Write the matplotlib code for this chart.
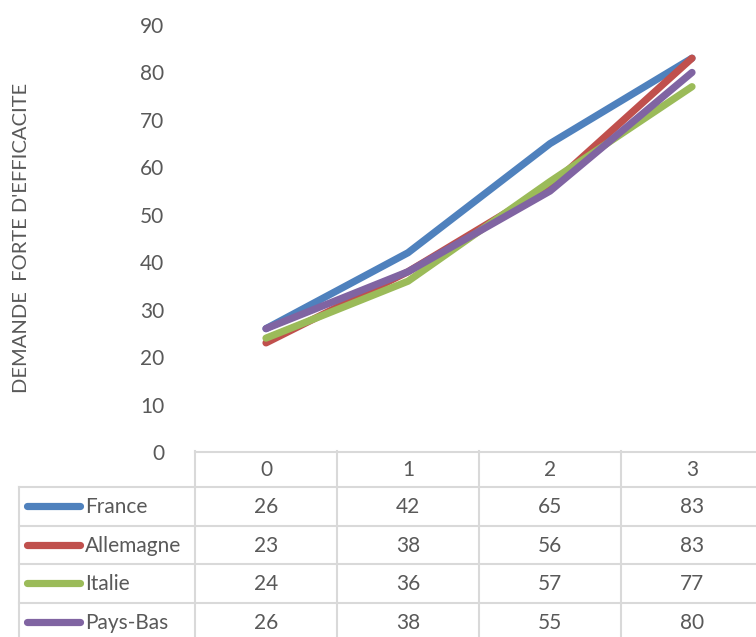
import matplotlib.pyplot as plt
from matplotlib.lines import Line2D

# efficiency demand by country, categories 0..3
categories = ['0', '1', '2', '3']
countries = ['France', 'Allemagne', 'Italie', 'Pays-Bas']
france = [26, 42, 65, 83]
allemagne = [23, 38, 56, 83]
italie = [24, 36, 57, 77]
pays_bas = [26, 38, 55, 80]
series = [france, allemagne, italie, pays_bas]
colors = ['#4F81BD', '#C0504D', '#9BBB59', '#8064A2']
yticks = [0, 10, 20, 30, 40, 50, 60, 70, 80, 90]

W, H = 756, 637
grey = '#595959'
gridc = '#D9D9D9'
font = 'Lato'
fs = 15

fig = plt.figure(figsize=(W / 100, H / 100), dpi=100)

# plot area in pixel terms
x0, colw = 195, 142
ytop, ybot = 25, 452
ax = fig.add_axes([x0 / W, 1 - ybot / H, 4 * colw / W, (ybot - ytop) / H])
for vals, c in zip(series, colors):
    ax.plot(range(len(categories)), vals, color=c, lw=5.2,
            solid_capstyle='round', solid_joinstyle='round')
ax.set_xlim(-0.5, len(categories) - 0.5)
ax.set_ylim(0, 90)
ax.set_yticks(yticks)
ax.set_yticklabels([str(v) for v in yticks], fontfamily=font, fontsize=fs, color=grey)
ax.set_xticks([])
ax.tick_params(axis='y', length=0, pad=22)
for s in ['left', 'right', 'top']:
    ax.spines[s].set_visible(False)
ax.spines['bottom'].set_color(gridc)
ax.spines['bottom'].set_linewidth(1.5)

fig.text(22 / W, 1 - 238 / H, "DEMANDE  FORTE D'EFFICACITE", rotation=90,
         ha='center', va='center', fontfamily=font, fontsize=14.5, color=grey)

# data table underneath, drawn on a pixel overlay
ov = fig.add_axes([0, 0, 1, 1])
ov.set_xlim(0, W)
ov.set_ylim(H, 0)
ov.axis('off')

def hline(y, xa, xb):
    ov.add_line(Line2D([xa, xb], [y, y], color=gridc, lw=1.5))

def vline(x, ya, yb):
    ov.add_line(Line2D([x, x], [ya, yb], color=gridc, lw=1.5))

head_top, head_bot = 451, 487
rowh = 38.5
leg_x = 19
col_edges = [x0 + i * colw for i in range(len(categories) + 1)]

for i, cat in enumerate(categories):
    cx = x0 + (i + 0.5) * colw
    ov.text(cx, (head_top + head_bot) / 2 + 1, cat, ha='center', va='center',
            fontfamily=font, fontsize=fs, color=grey)

n = len(countries)
for e in col_edges:
    vline(e, head_top, head_bot + n * rowh)
vline(leg_x, head_bot, head_bot + n * rowh)
for r in range(n + 1):
    hline(head_bot + r * rowh, leg_x, W + 20)

for r, (name, vals, c) in enumerate(zip(countries, series, colors)):
    cy = head_bot + (r + 0.5) * rowh
    ov.add_line(Line2D([27, 80], [cy, cy], color=c, lw=5.2, solid_capstyle='round'))
    ov.text(85, cy + 1, name, ha='left', va='center',
            fontfamily=font, fontsize=fs, color=grey)
    for i, v in enumerate(vals):
        ov.text(x0 + (i + 0.5) * colw, cy + 1, str(v), ha='center', va='center',
                fontfamily=font, fontsize=fs, color=grey)

fig.savefig('out.png', dpi=100)
